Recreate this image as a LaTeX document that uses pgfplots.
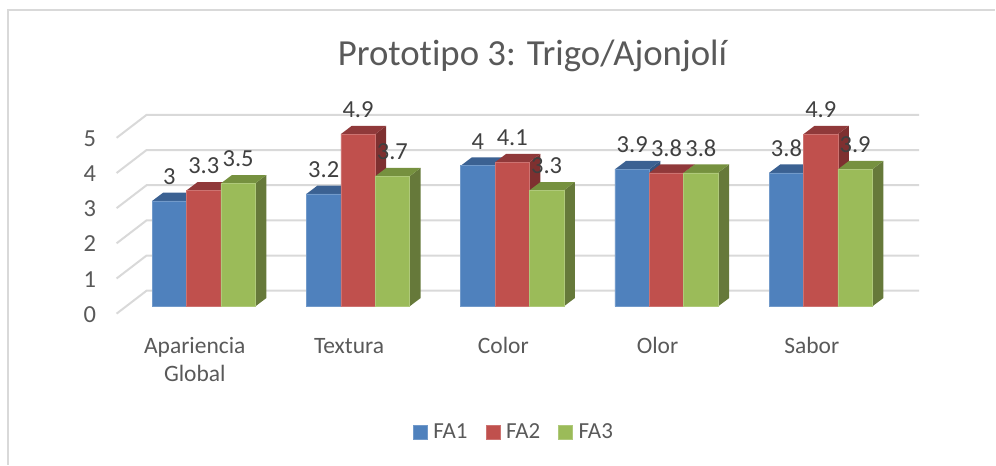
\documentclass[border=0pt]{standalone}
\usepackage{fontspec}
\setmainfont[Ligatures=NoCommon]{Carlito}
\usepackage{pgfplots}
\usepackage{pgfplotstable}
\pgfplotsset{compat=1.18}
\definecolor{gridc}{HTML}{D9D9D9}
\definecolor{txtc}{HTML}{595959}
\definecolor{lblc}{HTML}{404040}
\definecolor{bluef}{HTML}{4F81BD}
\definecolor{bluet}{HTML}{3B6192}
\definecolor{blues}{HTML}{335480}
\definecolor{redf}{HTML}{C0504D}
\definecolor{redt}{HTML}{90393A}
\definecolor{reds}{HTML}{7E3030}
\definecolor{greenf}{HTML}{9BBB59}
\definecolor{greent}{HTML}{76913F}
\definecolor{greens}{HTML}{66793A}
\pgfplotstableread{
x FA1 FA2 FA3
0 3   3.3 3.5
1 3.2 4.9 3.7
2 4   4.1 3.3
3 3.9 3.8 3.8
4 3.8 4.9 3.9
}\datatab
\def\bw{0.2228}
\def\ddx{0.0712}
\def\ddy{0.2358}
% side and top faces of one series (column, bar index, top colour, side colour)
\newcommand{\faces}[4]{%
  \pgfplotsinvokeforeach{0,1,2,3,4}{%
    \pgfplotstablegetelem{##1}{#1}\of\datatab
    \pgfmathsetmacro{\va}{\pgfplotsretval}%
    \pgfmathsetmacro{\vb}{\va+\ddy}%
    \pgfmathsetmacro{\xl}{##1+(#2-1.5)*\bw}%
    \pgfmathsetmacro{\xr}{\xl+\bw}%
    \pgfmathsetmacro{\xla}{\xl+\ddx}%
    \pgfmathsetmacro{\xra}{\xr+\ddx}%
    \addplot[fill=#4,draw=none,forget plot] coordinates {(\xr,0) (\xra,\ddy) (\xra,\vb) (\xr,\va)} -- cycle;
    \addplot[fill=#3,draw=none,forget plot] coordinates {(\xl,\va) (\xr,\va) (\xra,\vb) (\xla,\vb)} -- cycle;
  }%
}
\newcommand{\gridl}[1]{%
  \pgfmathsetmacro{\yb}{#1+0.446}%
  \pgfmathsetmacro{\yf}{#1-0.207}%
  \addplot[gridc,line width=2pt,forget plot] coordinates {(-0.5654,\yf) (-0.3711,\yb) (4.6373,\yb)};
}
\begin{document}
\begin{tikzpicture}
\begin{axis}[
  scale only axis,
  width=773.3pt,height=176pt,
  xmin=-0.5654,xmax=4.443,ymin=0,ymax=5,
  clip=false,
  axis line style={draw=none},
  tick style={draw=none},
  major tick length=0pt,
  /pgf/number format/assume math mode=true,
  xtick={0,1,2,3,4},
  xticklabels={{\strut Apariencia\\\strut Global},\strut Textura,\strut Color,\strut Olor,\strut Sabor},
  xticklabel style={align=center,font=\fontsize{23.5}{28}\selectfont,text=txtc,xshift=-9pt,yshift=-24.5pt},
  ytick={0,1,2,3,4,5},
  yticklabel style={font=\fontsize{24.5}{28}\selectfont,text=txtc,xshift=-17pt,yshift=-8pt},
  title={Prototipo 3: Trigo/Ajonjolí},
  title style={at={(0.5383,1.39)},anchor=center,font=\fontsize{36.8}{40}\selectfont,text=txtc},
  legend columns=3,
  legend style={at={(0.5143,-0.715)},anchor=center,draw=none,fill=none,
    font=\fontsize{23}{26}\selectfont,text=txtc,
    /tikz/every even column/.append style={column sep=16pt},
    /tikz/every odd column/.append style={column sep=4pt}},
  legsq/.style={legend image code/.code={\fill[##1] (0pt,-7pt) rectangle (14pt,7pt);}},
]
% page extent and frame
\path (axis cs:-1.3212,-4.497) rectangle (axis cs:5.1295,8.713);
\addplot[gridc,line width=2pt,forget plot] coordinates {(-1.2662,-4.497) (-1.2662,8.429) (5.1295,8.429)};
% gridlines and wall
\gridl{0}\gridl{1}\gridl{2}\gridl{3}\gridl{4}\gridl{5}
% FA1
\faces{FA1}{0}{bluet}{blues}
\addplot[ybar,bar width=\bw,bar shift=-\bw,fill=bluef,draw=bluef!80!white,line width=0.5pt,legsq] table[x=x,y=FA1] {\datatab};
\addlegendentry{FA1}
% FA2
\faces{FA2}{1}{redt}{reds}
\addplot[ybar,bar width=\bw,bar shift=0,fill=redf,draw=redf!80!white,line width=0.5pt,legsq] table[x=x,y=FA2] {\datatab};
\addlegendentry{FA2}
% FA3
\faces{FA3}{2}{greent}{greens}
\addplot[ybar,bar width=\bw,bar shift=\bw,fill=greenf,draw=greenf!80!white,line width=0.5pt,legsq] table[x=x,y=FA3] {\datatab};
\addlegendentry{FA3}
% value labels on top of everything
\pgfplotsset{lab/.style={draw=none,mark=none,forget plot,nodes near coords,point meta=y,
  every node near coord/.style={anchor=center,yshift=24.5pt,text=lblc,font=\fontsize{24.5}{28}\selectfont}}}
\addplot[lab] table[x expr=\thisrow{x}-\bw,y=FA1] {\datatab};
\addplot[lab] table[x=x,y=FA2] {\datatab};
\addplot[lab] table[x expr=\thisrow{x}+\bw,y=FA3] {\datatab};
\end{axis}
\end{tikzpicture}
\end{document}
